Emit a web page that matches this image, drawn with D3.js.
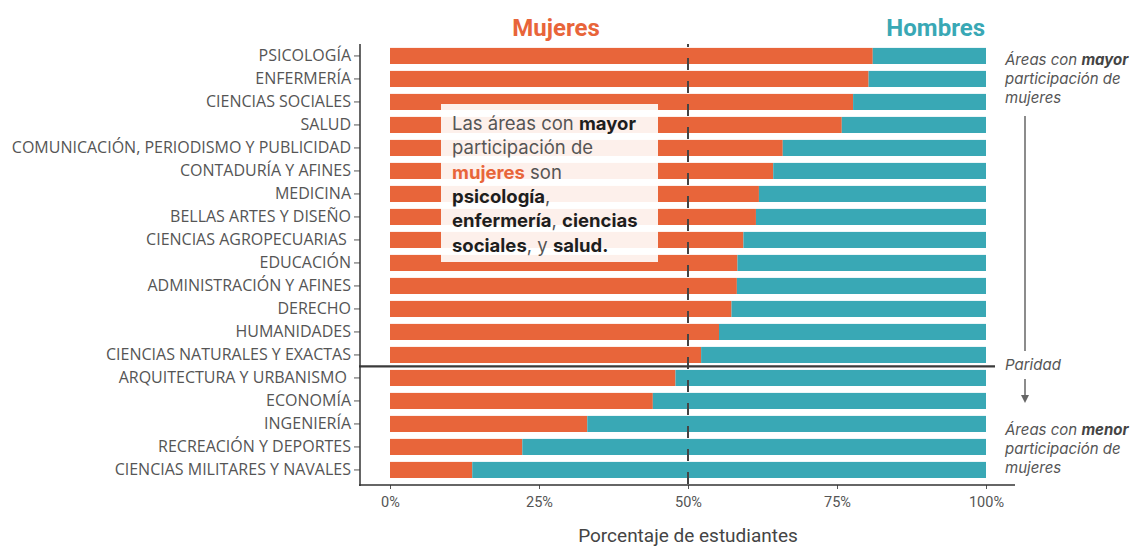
<!DOCTYPE html>
<html>
<head>
<meta charset="utf-8">
<script src="https://cdn.jsdelivr.net/npm/d3@7"></script>
<style>
  body { margin: 0; background: #fff; }
  svg { display: block; }
</style>
</head>
<body>
<svg id="chart" width="1136" height="548"></svg>
<script>
// data (porcentaje de estudiantes por área)
var areas = [
  'PSICOLOGÍA', 'ENFERMERÍA', 'CIENCIAS SOCIALES', 'SALUD',
  'COMUNICACIÓN, PERIODISMO Y PUBLICIDAD', 'CONTADURÍA Y AFINES', 'MEDICINA',
  'BELLAS ARTES Y DISEÑO', 'CIENCIAS AGROPECUARIAS ', 'EDUCACIÓN',
  'ADMINISTRACIÓN Y AFINES', 'DERECHO', 'HUMANIDADES', 'CIENCIAS NATURALES Y EXACTAS',
  'ARQUITECTURA Y URBANISMO ', 'ECONOMÍA', 'INGENIERÍA', 'RECREACIÓN Y DEPORTES',
  'CIENCIAS MILITARES Y NAVALES'
];
var mujeres = [81.0, 80.3, 77.7, 75.8, 65.9, 64.3, 61.9, 61.4, 59.3, 58.3,
               58.2, 57.3, 55.2, 52.2, 47.9, 44.1, 33.1, 22.2, 13.8];
var hombres = [19.0, 19.7, 22.3, 24.2, 34.1, 35.7, 38.1, 38.6, 40.7, 41.7,
               41.8, 42.7, 44.8, 47.8, 52.1, 55.9, 66.9, 77.8, 86.2];
var xTicks = [0, 25, 50, 75, 100];
var primeraMinoria = 'ARQUITECTURA Y URBANISMO ';

var colors = { mujeres: '#e8653a', hombres: '#39a8b5' };

var rows = areas.map(function(a, i) {
  return { area: a, mujeres: mujeres[i], hombres: hombres[i] };
});

var svg = d3.select('#chart'),
    x = d3.scaleLinear().domain([0, 100]).range([390, 986]),
    y = d3.scaleBand().domain(areas).range([41, 484.9]).paddingInner(0.3).paddingOuter(0.3);

var stacked = d3.stack().keys(['mujeres', 'hombres'])(rows);

// bars
svg.append('g').selectAll('g')
    .data(stacked)
  .enter().append('g')
    .attr('fill', function(d) { return colors[d.key]; })
  .selectAll('rect')
    .data(function(d) { return d; })
  .enter().append('rect')
    .attr('x', function(d) { return x(d[0]); })
    .attr('width', function(d) { return x(d[1]) - x(d[0]); })
    .attr('y', function(d) { return y(d.data.area); })
    .attr('height', y.bandwidth());

// 50% reference
svg.append('line')
    .attr('x1', x(50)).attr('x2', x(50))
    .attr('y1', 44).attr('y2', 485)
    .attr('stroke', '#444')
    .attr('stroke-width', 2)
    .attr('stroke-dasharray', '12,11')
    .attr('stroke-dashoffset', 9);

// paridad separator
var sepY = y(primeraMinoria) - y.step() * y.paddingInner() / 2;
svg.append('line')
    .attr('x1', 359).attr('x2', 995)
    .attr('y1', sepY).attr('y2', sepY)
    .attr('stroke', '#3a3a3a')
    .attr('stroke-width', 2.2);

// y axis
var yAxis = svg.append('g')
    .attr('transform', 'translate(360,0)')
    .call(d3.axisLeft(y).tickSize(6).tickPadding(3));
yAxis.select('.domain').remove();
yAxis.selectAll('.tick line').attr('stroke', '#555');
yAxis.selectAll('text')
    .attr('fill', '#555')
    .style('font-family', '"Open Sans", sans-serif')
    .style('font-size', '16px')
    .style('white-space', 'pre');
svg.append('line')
    .attr('x1', 360).attr('x2', 360)
    .attr('y1', 44).attr('y2', 486)
    .attr('stroke', '#333').attr('stroke-width', 1.5);

// x axis
var xAxis = svg.append('g')
    .attr('transform', 'translate(0,485)')
    .call(d3.axisBottom(x).tickValues(xTicks).tickSize(4).tickPadding(8)
        .tickFormat(function(d) { return d + '%'; }));
xAxis.select('.domain').remove();
xAxis.selectAll('.tick line').attr('stroke', '#555');
xAxis.selectAll('text')
    .attr('fill', '#555')
    .style('font-family', 'Roboto, sans-serif')
    .style('font-size', '14.5px');
svg.append('line')
    .attr('x1', 359).attr('x2', 1015)
    .attr('y1', 485).attr('y2', 485)
    .attr('stroke', '#333').attr('stroke-width', 1.5);

svg.append('text')
    .attr('x', x(50)).attr('y', 542)
    .attr('text-anchor', 'middle')
    .attr('fill', '#444')
    .style('font-family', 'Roboto, sans-serif')
    .style('font-size', '19px')
    .text('Porcentaje de estudiantes');

// series titles
svg.append('text')
    .attr('x', 556).attr('y', 36)
    .attr('text-anchor', 'middle')
    .attr('fill', colors.mujeres)
    .style('font-family', 'Roboto, sans-serif')
    .style('font-weight', 700)
    .style('font-size', '24px')
    .text('Mujeres');
svg.append('text')
    .attr('x', 985).attr('y', 36)
    .attr('text-anchor', 'end')
    .attr('fill', colors.hombres)
    .style('font-family', 'Roboto, sans-serif')
    .style('font-weight', 700)
    .style('font-size', '24px')
    .text('Hombres');

// annotation box
svg.append('rect')
    .attr('x', 441).attr('y', 104)
    .attr('width', 217).attr('height', 158)
    .attr('fill', '#fff')
    .attr('fill-opacity', 0.9);

var notaLines = [
  [['Las áreas con ', 'n'], ['mayor', 'b']],
  [['participación de', 'n']],
  [['mujeres', 'o'], [' son', 'n']],
  [['psicología', 'b'], [',', 'n']],
  [['enfermería', 'b'], [', ', 'n'], ['ciencias', 'b']],
  [['sociales', 'b'], [', y ', 'n'], ['salud.', 'b']]
];
var nota = svg.append('text')
    .attr('x', 452)
    .style('font-family', 'Inter, sans-serif')
    .style('font-size', '18.5px')
    .style('white-space', 'pre');
notaLines.forEach(function(line, i) {
  line.forEach(function(seg, j) {
    var t = nota.append('tspan').text(seg[0]);
    if (j === 0) t.attr('x', 452).attr('y', 130 + i * 24.3);
    if (seg[1] === 'b') t.attr('fill', '#1e1e1e').style('font-weight', 700);
    else if (seg[1] === 'o') t.attr('fill', colors.mujeres).style('font-weight', 700);
    else t.attr('fill', '#555');
  });
});

// right side annotations
function sideNote(lines, y0) {
  var t = svg.append('text')
      .style('font-family', 'Inter, sans-serif')
      .style('font-style', 'italic')
      .style('font-size', '15px')
      .style('white-space', 'pre')
      .attr('fill', '#555');
  lines.forEach(function(line, i) {
    line.forEach(function(seg, j) {
      var s = t.append('tspan').text(seg[0]);
      if (j === 0) s.attr('x', 1005).attr('y', y0 + i * 19);
      if (seg[1] === 'b') s.style('font-weight', 700).attr('fill', '#444');
    });
  });
}
sideNote([[['Áreas con ', 'n'], ['mayor', 'b']], [['participación de', 'n']], [['mujeres', 'n']]], 65);
sideNote([[['Áreas con ', 'n'], ['menor', 'b']], [['participación de', 'n']], [['mujeres', 'n']]], 435);

svg.append('text')
    .attr('x', 1005).attr('y', 370)
    .attr('fill', '#555')
    .style('font-family', 'Inter, sans-serif')
    .style('font-style', 'italic')
    .style('font-size', '15px')
    .text('Paridad');

svg.append('line')
    .attr('x1', 1025).attr('x2', 1025)
    .attr('y1', 116).attr('y2', 351)
    .attr('stroke', '#666').attr('stroke-width', 1.5);
svg.append('line')
    .attr('x1', 1025).attr('x2', 1025)
    .attr('y1', 379).attr('y2', 396)
    .attr('stroke', '#666').attr('stroke-width', 1.5);
svg.append('path')
    .attr('d', d3.line()([[1021, 395], [1029, 395], [1025, 403]]))
    .attr('fill', '#666');
</script>
</body>
</html>
